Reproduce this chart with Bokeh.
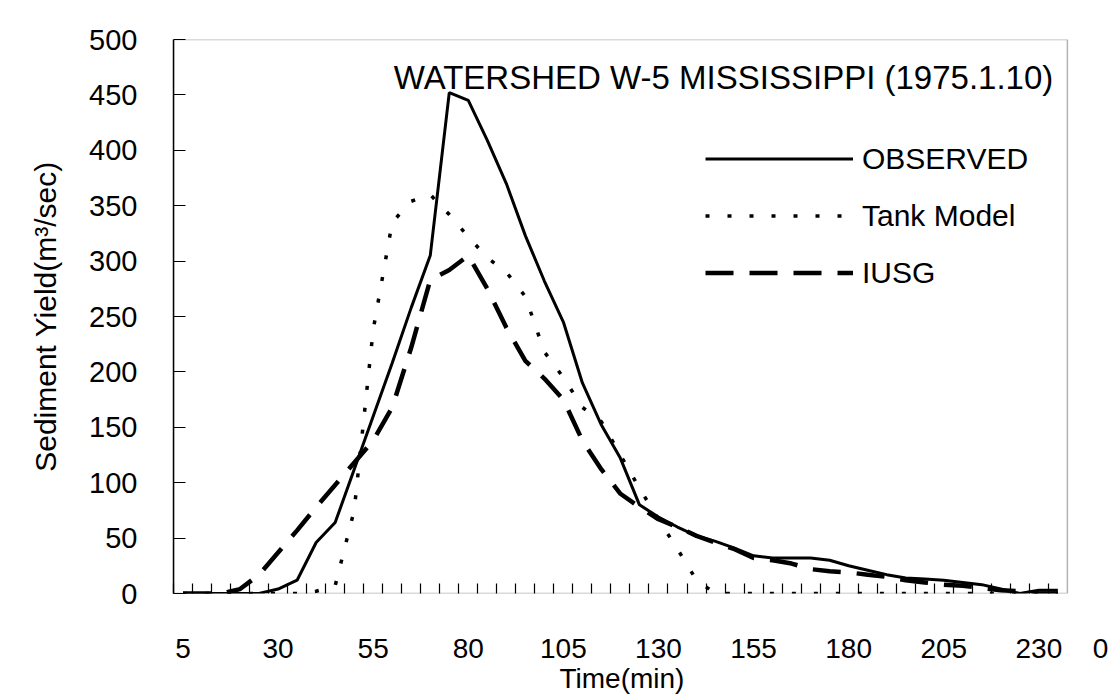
from bokeh.plotting import figure
from bokeh.models import FixedTicker, Legend, LegendItem, Label, Range1d, BoxAnnotation, Title
from bokeh.embed import file_html
from bokeh.resources import INLINE

# ---- data ----
time_min = [5, 10, 15, 20, 25, 30, 35, 40, 45, 50, 55, 60, 65, 70, 75, 80, 85, 90, 95, 100,
            105, 110, 115, 120, 125, 130, 135, 140, 145, 150, 155, 160, 165, 170, 175, 180,
            185, 190, 195, 200, 205, 210, 215, 220, 225, 230, 235]

observed = [0, 0, 0, 0, 0, 4, 12, 46, 64, 112, 160, 208, 258, 305, 452, 445, 409, 370, 323, 282,
            245, 190, 152, 122, 80, 69, 60, 52, 47, 41, 34, 32, 32, 32, 30, 25,
            21, 17, 14, 13, 12, 10, 8, 4, 0, 3, 3]

tank_model = [0, 0, 0, 0, 0, 0, 0, 2, 7, 75, 238, 335, 354, 360, 342, 322, 303, 290, 268, 218,
              195, 168, 155, 125, 95, 67, 40, 12, 0, 0, 0, 0, 0, 0, 0, 0,
              0, 0, 0, 0, 0, 0, 0, 0, 0, 0, 0]

iusg = [0, 0, 0, 4, 17, 37, 57, 78, 98, 118, 138, 168, 222, 283, 292, 305, 275, 240, 210, 194,
        175, 138, 112, 90, 78, 67, 60, 52, 46, 40, 32, 30, 27, 22, 20, 19,
        17, 15, 12, 10, 8, 7, 5, 3, 2, 0, 0]

x_tick_values = [5, 30, 55, 80, 105, 130, 155, 180, 205, 230, 246.2]
x_tick_overrides = {246.2: "0"}
x_minor_ticks = [2.5, 7.5, 12.5, 17.5, 22.5, 27.5, 32.5, 37.5, 42.5, 47.5, 52.5, 57.5, 62.5,
                 67.5, 72.5, 77.5, 82.5, 87.5, 92.5, 97.5, 102.5, 107.5, 112.5, 117.5, 122.5,
                 127.5, 132.5, 137.5, 142.5, 147.5, 152.5, 157.5, 162.5, 167.5, 172.5, 177.5,
                 182.5, 187.5, 192.5, 197.5, 202.5, 207.5, 212.5, 217.5, 222.5, 227.5, 232.5]
y_tick_values = [0, 50, 100, 150, 200, 250, 300, 350, 400, 450, 500]

series_names = ["OBSERVED", "Tank Model", "IUSG"]
chart_title = "WATERSHED W-5 MISSISSIPPI (1975.1.10)"
x_title = "Time(min)"
y_title = "Sediment Yield(m\u00b3/sec)"

FONT = "Liberation Sans"
X_START, X_PLOT_END, X_END = 2.5, 237.5, 249.1

p = figure(width=1111, height=700, output_backend="svg", toolbar_location=None,
           x_range=Range1d(X_START, X_END), y_range=Range1d(0, 500),
           min_border_left=173, min_border_right=0, min_border_top=39, min_border_bottom=107,
           background_fill_color="white", border_fill_color="white")

p.xgrid.visible = False
p.ygrid.visible = False
p.outline_line_color = None

# plot-area frame (the chart box stops before the right edge of the canvas)
p.add_layout(BoxAnnotation(left=X_START, right=X_PLOT_END, bottom=0, top=500,
                           fill_alpha=0, line_color="black", line_width=1.5))

# x axis
xa = p.xaxis[0]
xa.ticker = FixedTicker(ticks=x_tick_values, minor_ticks=x_minor_ticks)
xa.major_label_overrides = x_tick_overrides
xa.major_tick_in = 0
xa.major_tick_out = 0
xa.minor_tick_in = 10
xa.minor_tick_out = 0
xa.minor_tick_line_color = "black"
xa.minor_tick_line_width = 1.2
xa.axis_line_color = None
xa.major_label_standoff = 45
xa.major_label_text_font = FONT
xa.major_label_text_font_size = "28px"
xa.major_label_text_color = "black"

# x-axis title, centred under the chart box
p.add_layout(Title(text=x_title, align="left", offset=386, standoff=0,
                   text_font=FONT, text_font_size="28px", text_font_style="normal",
                   text_color="black"), "below")

# y axis
ya = p.yaxis[0]
ya.ticker = FixedTicker(ticks=y_tick_values)
ya.major_tick_in = 12
ya.major_tick_out = 0
ya.minor_tick_in = 0
ya.minor_tick_out = 0
ya.major_tick_line_color = "black"
ya.major_tick_line_width = 1.2
ya.axis_line_color = "black"
ya.axis_line_width = 1.5
ya.major_label_standoff = 36
ya.major_label_text_font = FONT
ya.major_label_text_font_size = "29px"
ya.major_label_text_color = "black"
ya.axis_label = y_title
ya.axis_label_standoff = 24
ya.axis_label_text_font = FONT
ya.axis_label_text_font_size = "30px"
ya.axis_label_text_font_style = "normal"
ya.axis_label_text_color = "black"

r_obs = p.line(time_min, observed, line_color="black", line_width=3)
r_tank = p.line(time_min, tank_model, line_color="black", line_width=3.5, line_dash="4 18")
r_iusg = p.line(time_min, iusg, line_color="black", line_width=4.5, line_dash="28 16")

legend = Legend(items=[LegendItem(label=series_names[0], renderers=[r_obs]),
                       LegendItem(label=series_names[1], renderers=[r_tank]),
                       LegendItem(label=series_names[2], renderers=[r_iusg])],
                location=(532, 292))
legend.glyph_width = 148
legend.glyph_height = 57
legend.label_standoff = 9
legend.spacing = 0
legend.padding = 0
legend.margin = 0
legend.border_line_color = None
legend.background_fill_alpha = 0
legend.label_text_font = FONT
legend.label_text_font_size = "30px"
legend.label_text_color = "black"
p.add_layout(legend)

p.add_layout(Label(x=233.8, y=466, text=chart_title, text_align="right",
                   text_baseline="middle", text_font=FONT, text_font_size="33px",
                   text_color="black"))

open("out.html", "w").write(file_html(p, INLINE))
